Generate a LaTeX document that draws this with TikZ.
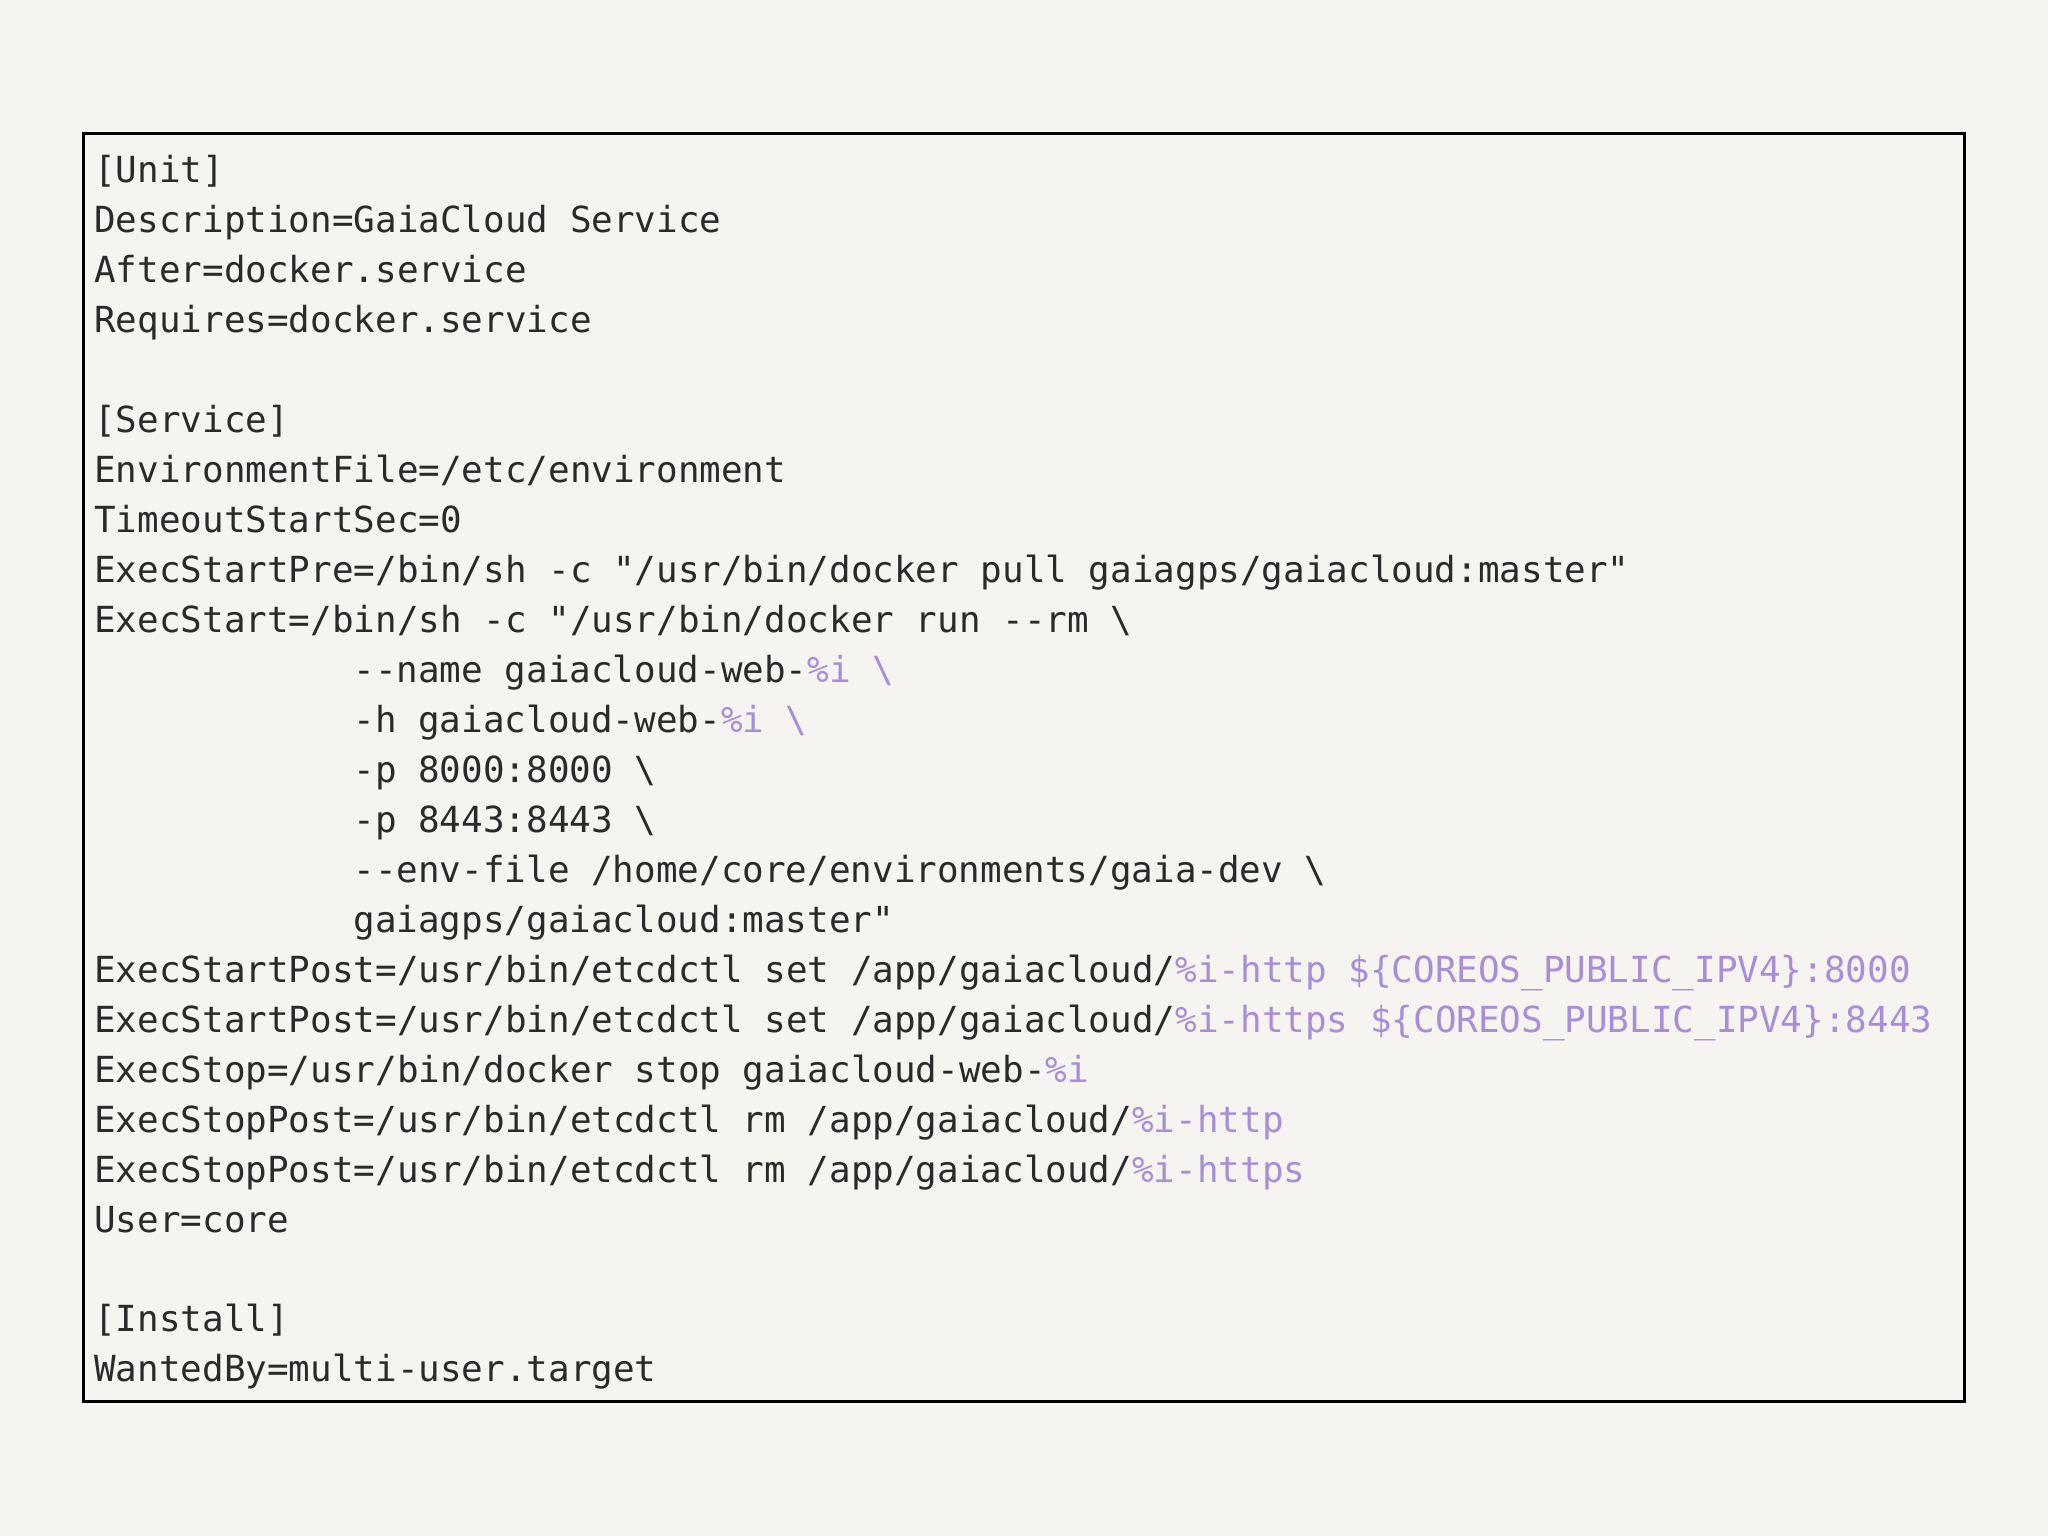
\documentclass[tikz,border=0pt]{standalone}
\usepackage{fontspec}
\setmonofont{DejaVu Sans Mono}
\definecolor{bgc}{HTML}{F6F4F0}
\definecolor{purp}{HTML}{A88ED6}
\definecolor{txt}{HTML}{2A2A2A}
\newcommand{\pu}[1]{\textcolor{purp}{#1}}
\newcommand{\bs}{\textbackslash}
\tikzset{ln/.style={anchor=base west,inner sep=0pt,font=\ttfamily\fontsize{27.5pt}{30pt}\selectfont,text=txt}}
\begin{document}
\begin{tikzpicture}[x=1pt,y=-1pt]
\fill[bgc] (0,0) rectangle (1568,1176);
\useasboundingbox (0,0) rectangle (1568,1176);
\draw[line width=2.5pt,black] (64,102) rectangle (1504,1073);
\def\L{72}\def\I{270.4}
\newcommand{\row}[3]{\node[ln] (r#1) at (#2,{140+38.25*#1}) {#3};}
\row{0}{\L}{[Unit]}
\row{1}{\L}{Description=GaiaCloud Service}
\row{2}{\L}{After=docker.service}
\row{3}{\L}{Requires=docker.service}
\row{5}{\L}{[Service]}
\row{6}{\L}{EnvironmentFile=/etc/environment}
\row{7}{\L}{TimeoutStartSec=0}
\row{8}{\L}{ExecStartPre=/bin/sh -c "/usr/bin/docker pull gaiagps/gaiacloud:master"}
\row{9}{\L}{ExecStart=/bin/sh -c "/usr/bin/docker run --rm \bs}
\row{10}{\I}{--name gaiacloud-web-\pu{\%i \bs}}
\row{11}{\I}{-h gaiacloud-web-\pu{\%i \bs}}
\row{12}{\I}{-p 8000:8000 \bs}
\row{13}{\I}{-p 8443:8443 \bs}
\row{14}{\I}{--env-file /home/core/environments/gaia-dev \bs}
\row{15}{\I}{gaiagps/gaiacloud:master"}
\row{16}{\L}{ExecStartPost=/usr/bin/etcdctl set /app/gaiacloud/\pu{\%i-http \$\{COREOS\_PUBLIC\_IPV4\}:8000}}
\row{17}{\L}{ExecStartPost=/usr/bin/etcdctl set /app/gaiacloud/\pu{\%i-https \$\{COREOS\_PUBLIC\_IPV4\}:8443}}
\row{18}{\L}{ExecStop=/usr/bin/docker stop gaiacloud-web-\pu{\%i}}
\row{19}{\L}{ExecStopPost=/usr/bin/etcdctl rm /app/gaiacloud/\pu{\%i-http}}
\row{20}{\L}{ExecStopPost=/usr/bin/etcdctl rm /app/gaiacloud/\pu{\%i-https}}
\row{21}{\L}{User=core}
\row{23}{\L}{[Install]}
\row{24}{\L}{WantedBy=multi-user.target}
\end{tikzpicture}
\end{document}
